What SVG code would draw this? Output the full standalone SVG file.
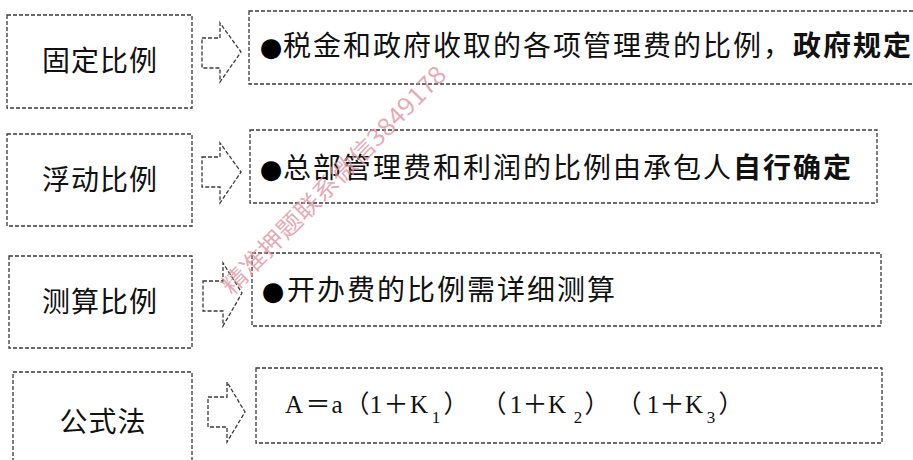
<svg xmlns="http://www.w3.org/2000/svg" width="913" height="460" viewBox="0 0 913 460">
<style>
.box{fill:#fff;stroke:#3a3a3a;stroke-width:1.3;stroke-dasharray:4 2}
.arr{fill:#fff;stroke:#3a3a3a;stroke-width:1.3;stroke-dasharray:4 2;stroke-linejoin:miter}
.lbl{font-family:"Noto Sans CJK SC",sans-serif;font-size:28px;fill:#111;text-anchor:middle;letter-spacing:1px}
.txt{font-family:"Noto Sans CJK SC",sans-serif;font-size:28px;fill:#111;letter-spacing:2px}
.b{font-weight:bold}
.bul{font-family:"DejaVu Sans",sans-serif;font-size:26px;fill:#000;text-anchor:middle}
.f{font-family:"Liberation Serif","Noto Sans CJK SC",serif;font-size:25px;fill:#111;text-anchor:middle}
.fs{font-size:17px}
.wm{font-family:"Noto Sans CJK SC",sans-serif;font-size:24px;fill:#dd8f9c;fill-opacity:0.75}
</style>
<rect width="913" height="460" fill="#fff"/>
<g id="node-fixed">
<rect class="box" x="7" y="15" width="185" height="93"/>
<text class="lbl" x="100" y="71">固定比例</text>
</g>
<g id="node-float">
<rect class="box" x="7" y="134" width="185" height="92"/>
<text class="lbl" x="100" y="190">浮动比例</text>
</g>
<g id="node-measure">
<rect class="box" x="9" y="256" width="183" height="92"/>
<text class="lbl" x="100" y="312">测算比例</text>
</g>
<g id="node-formula">
<rect class="box" x="13" y="372" width="179" height="100"/>
<text class="lbl" x="103" y="432">公式法</text>
</g>
<g id="desc-fixed">
<rect class="box" x="249" y="11" width="670" height="73"/>
<text class="bul" x="271" y="56">●</text>
<text class="txt" x="283" y="56">税金和政府收取的各项管理费的比例，<tspan class="b">政府规定</tspan></text>
</g>
<g id="desc-float">
<rect class="box" x="250" y="130" width="627" height="73"/>
<text class="bul" x="271" y="178">●</text>
<text class="txt" x="283" y="178">总部管理费和利润的比例由承包人<tspan class="b">自行确定</tspan></text>
</g>
<g id="desc-measure">
<rect class="box" x="252" y="253" width="629" height="73"/>
<text class="bul" x="273" y="300">●</text>
<text class="txt" x="287" y="300">开办费的比例需详细测算</text>
</g>
<g id="desc-formula">
<rect class="box" x="256" y="368" width="626" height="75"/>
<text class="f" y="413"><tspan x="294">A</tspan><tspan x="318">＝</tspan><tspan x="337">a</tspan><tspan x="357">（</tspan><tspan x="376">1</tspan><tspan x="396">＋</tspan><tspan x="419">K</tspan><tspan class="fs" x="436" y="423">1</tspan><tspan x="456" y="413">）</tspan><tspan x="494">（</tspan><tspan x="516">1</tspan><tspan x="535">＋</tspan><tspan x="557">K</tspan><tspan class="fs" x="578" y="423">2</tspan><tspan x="597" y="413">）</tspan><tspan x="629">（</tspan><tspan x="653">1</tspan><tspan x="672">＋</tspan><tspan x="694">K</tspan><tspan class="fs" x="711" y="423">3</tspan><tspan x="731" y="413">）</tspan></text>
</g>
<g id="connectors">
<path class="arr" d="M202,38 H220 V23 L241,52 L220,82 V68 H202 Z"/>
<path class="arr" d="M202,157 H220 V143 L241,172 L220,203 V187 H202 Z"/>
<path class="arr" d="M203,281 H223 V263 L242,293 L223,326 V311 H203 Z"/>
<path class="arr" d="M208,397 H227 V382 L245,412 L227,442 V427 H208 Z"/>
</g>
<g id="watermark">
<text class="wm" x="232" y="296" transform="rotate(-45.5 232 296)" textLength="308" lengthAdjust="spacingAndGlyphs">精准押题联系微信3849178</text>
</g>
</svg>
